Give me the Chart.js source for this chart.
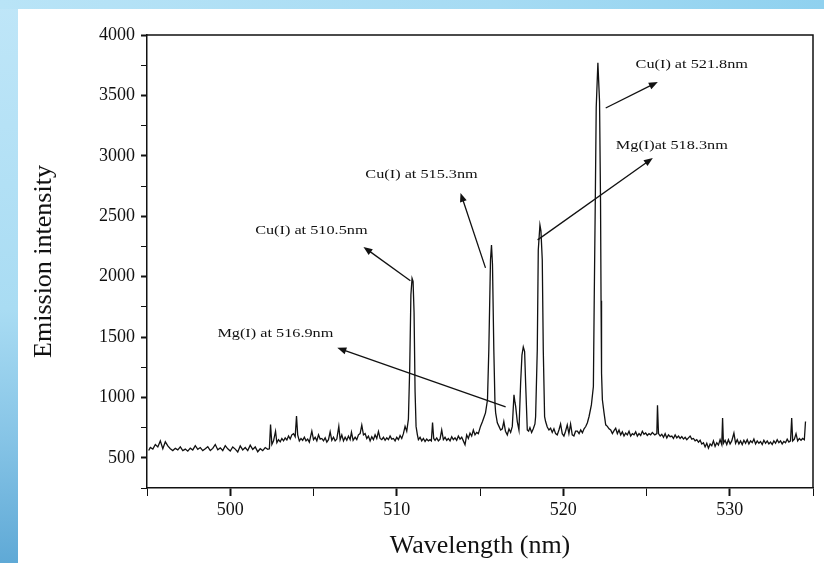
<!DOCTYPE html>
<html>
<head>
<meta charset="utf-8">
<script src="https://cdn.jsdelivr.net/npm/chart.js@4/dist/chart.umd.min.js"></script>
<style>
  html, body { margin: 0; padding: 0; }
  body {
    width: 824px; height: 563px; overflow: hidden; position: relative;
    background: linear-gradient(180deg, #bfe6f8 0%, #a9dcf3 55%, #86c4e6 78%, #5fa9d6 100%);
  }
  #topband {
    position: absolute; left: 0; top: 0; width: 824px; height: 9px;
    background: linear-gradient(90deg, #b9e4f7 0%, #a6dbf3 60%, #8fd1ef 100%);
  }
  #paper {
    position: absolute; left: 18px; top: 9px; width: 806px; height: 554px;
    background: #ffffff;
  }
</style>
</head>
<body>
<div id="topband"></div>
<div id="paper"><canvas id="spectrum" width="806" height="554"></canvas></div>
<script>
// spectrum (nm, counts)
const wavelengths = [
  495.1, 495.2, 495.35, 495.5, 495.65, 495.8, 495.95, 496.1, 496.25, 496.4,
  496.55, 496.7, 496.85, 497.0, 497.15, 497.3, 497.45, 497.6, 497.75, 497.9,
  498.05, 498.2, 498.35, 498.5, 498.65, 498.8, 498.95, 499.1, 499.25, 499.4,
  499.55, 499.7, 499.85, 500.0, 500.15, 500.3, 500.45, 500.6, 500.75, 500.9,
  501.05, 501.2, 501.35, 501.5, 501.65, 501.8, 501.95, 502.1, 502.25, 502.35,
  502.42, 502.5, 502.6, 502.72, 502.8, 502.9, 503.0, 503.1, 503.2, 503.3,
  503.4, 503.5, 503.6, 503.7, 503.8, 503.9, 503.98, 504.05, 504.15, 504.25,
  504.35, 504.45, 504.55, 504.65, 504.75, 504.9, 505.0, 505.1, 505.2, 505.3,
  505.4, 505.5, 505.6, 505.7, 505.8, 505.9, 506.0, 506.1, 506.2, 506.3,
  506.4, 506.52, 506.6, 506.7, 506.8, 506.9, 507.0, 507.1, 507.2, 507.28,
  507.38, 507.5, 507.6, 507.7, 507.8, 507.9, 508.0, 508.1, 508.2, 508.3,
  508.4, 508.5, 508.6, 508.7, 508.8, 508.9, 509.0, 509.1, 509.2, 509.3,
  509.4, 509.5, 509.6, 509.7, 509.8, 509.9, 510.0, 510.1, 510.2, 510.3,
  510.4, 510.5, 510.6, 510.7, 510.78, 510.85, 510.92, 510.98, 511.04, 511.1,
  511.16, 511.24, 511.3, 511.4, 511.5, 511.6, 511.7, 511.8, 511.9, 512.0,
  512.08, 512.15, 512.22, 512.3, 512.4, 512.5, 512.6, 512.7, 512.8, 512.9,
  513.0, 513.1, 513.2, 513.3, 513.4, 513.5, 513.6, 513.7, 513.8, 513.9,
  514.0, 514.1, 514.2, 514.3, 514.4, 514.5, 514.6, 514.7, 514.8, 514.9,
  515.03, 515.15, 515.25, 515.33, 515.45, 515.53, 515.63, 515.69, 515.75, 515.83,
  515.9, 515.94, 516.04, 516.14, 516.24, 516.34, 516.43, 516.53, 516.64, 516.74,
  516.84, 516.94, 517.04, 517.1, 517.14, 517.24, 517.34, 517.44, 517.52, 517.6,
  517.68, 517.74, 517.84, 517.92, 518.0, 518.1, 518.2, 518.3, 518.34, 518.44,
  518.5, 518.6, 518.66, 518.74, 518.8, 518.88, 518.94, 519.04, 519.14, 519.24,
  519.34, 519.44, 519.54, 519.64, 519.74, 519.84, 519.94, 520.04, 520.14, 520.24,
  520.34, 520.44, 520.54, 520.64, 520.74, 520.85, 520.95, 521.05, 521.15, 521.25,
  521.35, 521.45, 521.55, 521.69, 521.81, 521.86, 521.93, 521.98, 522.08, 522.18,
  522.24, 522.27, 522.3, 522.35, 522.45, 522.55, 522.65, 522.75, 522.85, 522.95,
  523.05, 523.15, 523.25, 523.35, 523.45, 523.55, 523.65, 523.75, 523.85, 523.95,
  524.05, 524.15, 524.25, 524.35, 524.45, 524.55, 524.65, 524.75, 524.85, 524.95,
  525.05, 525.15, 525.25, 525.35, 525.5, 525.62, 525.66, 525.72, 525.82, 525.92,
  526.02, 526.12, 526.22, 526.32, 526.42, 526.52, 526.62, 526.72, 526.82, 526.92,
  527.02, 527.12, 527.22, 527.32, 527.42, 527.52, 527.62, 527.72, 527.82, 527.92,
  528.02, 528.12, 528.22, 528.32, 528.42, 528.52, 528.62, 528.72, 528.82, 528.92,
  529.02, 529.12, 529.22, 529.32, 529.42, 529.52, 529.57, 529.62, 529.72, 529.82,
  529.92, 530.02, 530.12, 530.25, 530.35, 530.45, 530.55, 530.65, 530.75, 530.85,
  530.95, 531.05, 531.15, 531.25, 531.35, 531.45, 531.55, 531.65, 531.75, 531.85,
  531.95, 532.05, 532.15, 532.25, 532.35, 532.45, 532.55, 532.65, 532.75, 532.85,
  532.95, 533.05, 533.15, 533.25, 533.35, 533.45, 533.55, 533.65, 533.72, 533.78,
  533.88, 533.98, 534.08, 534.18, 534.28, 534.38, 534.48, 534.55
];

const intensities = [
  560, 585, 572, 610, 590, 640, 575, 632, 598, 575,
  560, 578, 566, 590, 560, 572, 555, 580, 565, 600,
  570, 585, 560, 575, 592, 560, 578, 610, 566, 582,
  560, 600, 574, 556, 590, 572, 548, 598, 565, 585,
  560, 605, 570, 590, 550, 575, 560, 585, 570, 575,
  775, 610, 640, 720, 625, 650, 632, 660, 640, 665,
  648, 680, 655, 690, 700, 675, 845, 690, 640, 660,
  645, 670, 640, 655, 630, 720, 650, 670, 640, 690,
  655, 660, 640, 665, 630, 650, 715, 645, 670, 640,
  655, 760, 650, 690, 640, 670, 645, 680, 650, 712,
  645, 670, 650, 690, 700, 770, 690, 700, 660, 680,
  640, 675, 650, 690, 660, 718, 660, 650, 670, 645,
  665, 650, 680, 655, 660, 640, 670, 650, 685, 660,
  700, 760, 720, 820, 1250, 1850, 1985, 1960, 1700, 1050,
  760, 690, 650, 670, 640, 660, 635, 655, 640, 650,
  640, 792, 660, 645, 665, 640, 655, 730, 650, 670,
  645, 660, 640, 675, 650, 665, 645, 680, 655, 670,
  640, 608, 690, 660, 705, 680, 730, 690, 710, 700,
  760, 800, 840, 872, 980, 1394, 2138, 2262, 2100, 1394,
  950, 872, 790, 760, 730, 740, 800, 720, 690, 740,
  710, 760, 1021, 960, 928, 800, 730, 1120, 1350, 1418,
  1380, 1120, 730, 720, 750, 710, 740, 780, 840, 1394,
  2221, 2428, 2380, 2138, 1394, 840, 800, 755, 730, 745,
  710, 740, 700, 690, 730, 780, 700, 680, 720, 772,
  700, 780, 690, 680, 720, 720, 700, 730, 707, 740,
  759, 790, 842, 938, 1090, 1800, 2700, 3400, 3771, 3450,
  2600, 1800, 1200, 980, 872, 773, 760, 740, 730, 700,
  725, 745, 700, 730, 690, 715, 680, 705, 690, 720,
  680, 700, 690, 715, 680, 700, 685, 720, 695, 705,
  685, 700, 690, 710, 690, 700, 935, 700, 680, 695,
  670, 700, 665, 690, 675, 680, 660, 690, 665, 680,
  660, 675, 655, 670, 650, 665, 680, 655, 660, 640,
  650, 630, 645, 615, 625, 590, 620, 580, 615, 600,
  640, 595, 625, 605, 650, 610, 830, 620, 645, 610,
  650, 615, 640, 705, 620, 650, 615, 640, 610, 645,
  620, 650, 615, 640, 625, 655, 615, 640, 620, 635,
  610, 645, 620, 640, 615, 630, 610, 640, 620, 650,
  625, 640, 615, 635, 625, 655, 630, 640, 830, 640,
  655, 700, 640, 660, 645, 660, 650, 800
];

// axis ranges and labelled ticks
const xRange = [495, 535];
const yRange = [250, 4000];
const xLabelTicks = [500, 510, 520, 530];
const yLabelTicks = [500, 1000, 1500, 2000, 2500, 3000, 3500, 4000];

// peak notes: text, where the text sits, arrow tail and arrow head (nm, counts)
const noteTexts = ['Cu(I) at 510.5nm', 'Cu(I) at 515.3nm', 'Mg(I) at 516.9nm', 'Mg(I)at 518.3nm', 'Cu(I) at 521.8nm'];
const noteTextAt = [[504.87, 2378], [511.49, 2842], [502.71, 1526], [526.52, 3081], [527.72, 3752]];
const arrowTails = [[510.82, 1965], [515.33, 2072], [516.54, 922], [518.46, 2304], [522.55, 3396]];
const arrowHeads = [[508.0, 2246], [513.83, 2693], [506.43, 1410], [525.38, 2982], [525.68, 3611]];

const ink = '#111111';
const serif = '"Liberation Serif", "DejaVu Serif", serif';

const framePlugin = {
  id: 'frame',
  afterDraw(chart) {
    const { ctx, chartArea: a } = chart;
    ctx.save();
    ctx.strokeStyle = ink;
    ctx.lineWidth = 1.5;
    ctx.beginPath();
    ctx.moveTo(a.left, a.top);
    ctx.lineTo(a.right, a.top);
    ctx.lineTo(a.right, a.bottom);
    ctx.stroke();
    ctx.restore();
  }
};

const notesPlugin = {
  id: 'notes',
  afterDatasetsDraw(chart) {
    const { ctx, scales: { x, y } } = chart;
    ctx.save();
    ctx.strokeStyle = ink;
    ctx.fillStyle = ink;
    ctx.lineWidth = 1.3;
    arrowTails.forEach((t, i) => {
      const x0 = x.getPixelForValue(t[0]), y0 = y.getPixelForValue(t[1]);
      const x1 = x.getPixelForValue(arrowHeads[i][0]), y1 = y.getPixelForValue(arrowHeads[i][1]);
      const ang = Math.atan2(y1 - y0, x1 - x0);
      ctx.beginPath();
      ctx.moveTo(x0, y0);
      ctx.lineTo(x1 - 6 * Math.cos(ang), y1 - 6 * Math.sin(ang));
      ctx.stroke();
      // arrow head
      ctx.beginPath();
      ctx.moveTo(x1, y1);
      ctx.lineTo(x1 - 9 * Math.cos(ang) + 3.5 * Math.sin(ang), y1 - 9 * Math.sin(ang) - 3.5 * Math.cos(ang));
      ctx.lineTo(x1 - 9 * Math.cos(ang) - 3.5 * Math.sin(ang), y1 - 9 * Math.sin(ang) + 3.5 * Math.cos(ang));
      ctx.closePath();
      ctx.fill();
    });
    ctx.font = '13px ' + serif;
    ctx.textAlign = 'center';
    ctx.textBaseline = 'middle';
    noteTexts.forEach((txt, i) => {
      const px = x.getPixelForValue(noteTextAt[i][0]), py = y.getPixelForValue(noteTextAt[i][1]);
      ctx.save();
      ctx.translate(px, py);
      ctx.scale(1.25, 1);
      ctx.fillText(txt, 0, 0);
      ctx.restore();
    });
    ctx.restore();
  }
};

const ctx = document.getElementById('spectrum').getContext('2d');
new Chart(ctx, {
  type: 'line',
  data: {
    datasets: [{
      data: wavelengths.map((w, i) => ({ x: w, y: intensities[i] })),
      borderColor: ink,
      borderWidth: 1.3,
      pointRadius: 0,
      tension: 0,
      fill: false
    }]
  },
  options: {
    responsive: false,
    animation: false,
    layout: { padding: { left: 0, right: 11, top: 26, bottom: 0 } },
    plugins: { legend: { display: false }, tooltip: { enabled: false } },
    scales: {
      x: {
        type: 'linear',
        min: xRange[0],
        max: xRange[1],
        afterFit: s => { s.height = 75; },
        border: { color: ink, width: 1.5 },
        grid: {
          drawOnChartArea: false,
          tickLength: 8,
          color: ink,
          tickWidth: c => (xLabelTicks.includes(c.tick && c.tick.value) ? 2 : 1)
        },
        ticks: {
          stepSize: 5,
          autoSkip: false,
          maxRotation: 0,
          padding: 3,
          color: ink,
          font: { family: serif, size: 18 },
          callback: v => (xLabelTicks.includes(v) ? String(v) : '')
        },
        title: {
          display: true,
          text: 'Wavelength (nm)',
          color: ink,
          font: { family: serif, size: 26 },
          padding: { top: 0, bottom: 1 }
        }
      },
      y: {
        min: yRange[0],
        max: yRange[1],
        afterFit: s => { s.width = 129; },
        border: { color: ink, width: 1.5 },
        grid: {
          drawOnChartArea: false,
          tickLength: 6,
          color: ink,
          tickWidth: c => (yLabelTicks.includes(c.tick && c.tick.value) ? 2 : 1)
        },
        ticks: {
          stepSize: 250,
          autoSkip: false,
          padding: 6,
          color: ink,
          font: { family: serif, size: 18 },
          callback: v => (yLabelTicks.includes(v) ? String(v) : '')
        },
        title: {
          display: true,
          text: 'Emission intensity',
          color: ink,
          font: { family: serif, size: 26 },
          padding: { top: 11, bottom: 0 }
        }
      }
    }
  },
  plugins: [framePlugin, notesPlugin]
});
</script>
</body>
</html>
